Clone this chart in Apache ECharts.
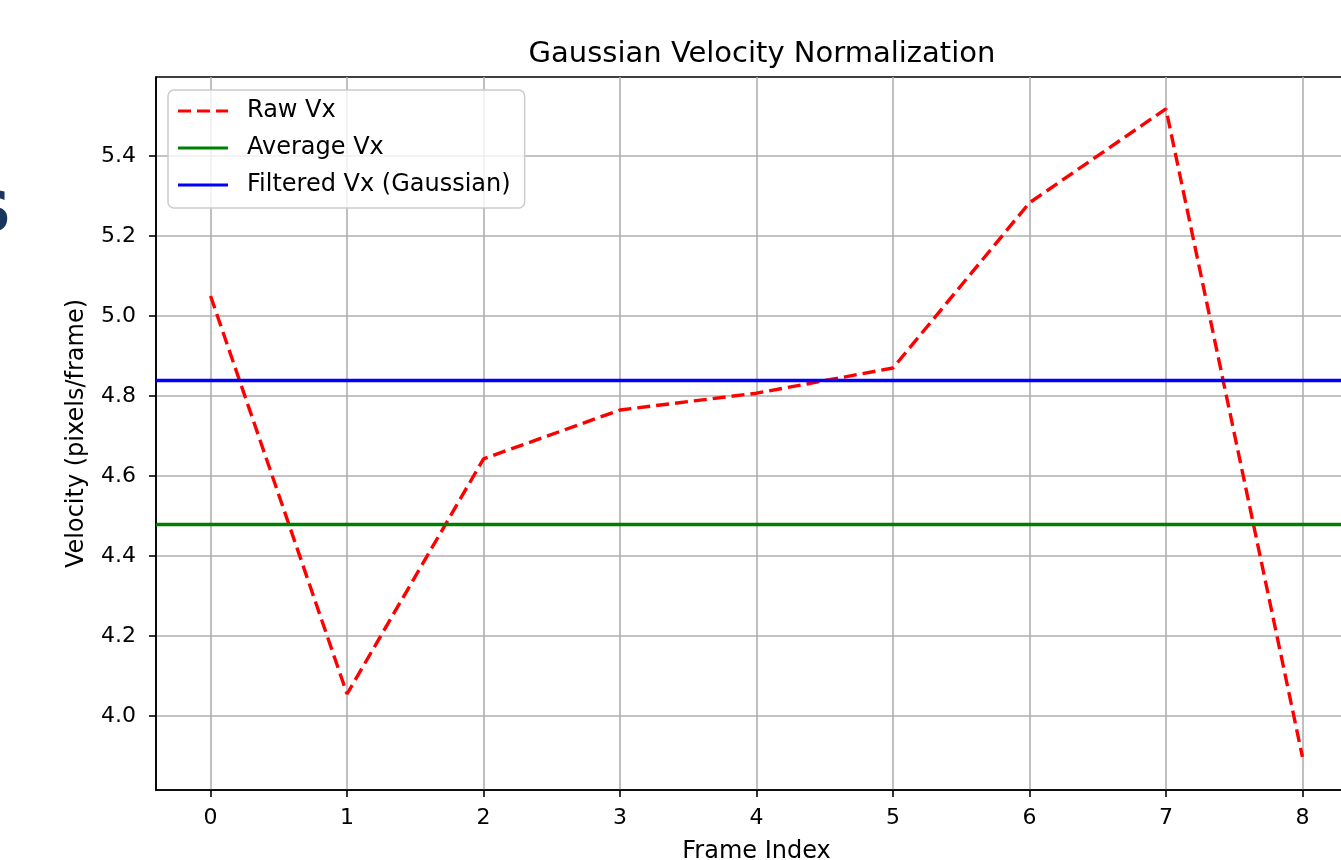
<!DOCTYPE html>
<html>
<head>
<meta charset="utf-8">
<script src="https://cdn.jsdelivr.net/npm/echarts@6/dist/echarts.min.js"></script>
<style>
html,body{margin:0;padding:0;background:#fff;}
#chart{width:1341px;height:860px;}
</style>
</head>
<body>
<div id="chart"></div>
<script>
// ---- data ----
const frames = [0, 1, 2, 3, 4, 5, 6, 7, 8];
const rawVx = [5.05, 4.055, 4.643, 4.765, 4.807, 4.87, 5.283, 5.518, 3.898];
const averageVx = 4.478;
const filteredVx = 4.837;
const xTicks = [0, 1, 2, 3, 4, 5, 6, 7, 8];
const yTicks = [4.0, 4.2, 4.4, 4.6, 4.8, 5.0, 5.2, 5.4];
const xRange = [-0.4, 8.4];
const yRange = [3.815, 5.5975];

const FONT = 'DejaVu Sans';
const chart = echarts.init(document.getElementById('chart'), null, {renderer: 'canvas'});

const rawData = frames.map((f, i) => [f, rawVx[i]]);
const dashIcon = 'path://M0,0h13v3h-13z M19,0h13v3h-13z M38,0h12v3h-12z';
const solidIcon = 'path://M0,0h50v3h-50z';

chart.setOption({
  animation: false,
  backgroundColor: '#ffffff',
  title: {
    text: 'Gaussian Velocity Normalization',
    left: 757, top: 35, textAlign: 'center',
    textStyle: {fontFamily: FONT, fontSize: 29, fontWeight: 'normal', color: '#000'}
  },
  graphic: [{
    type: 'text', left: -29, top: 187,
    style: {text: 'S', fontFamily: FONT, fontSize: 56, fontWeight: 'bold', fill: '#1b365d'}
  }],
  legend: {
    orient: 'vertical', left: 168, top: 90,
    itemWidth: 50, itemHeight: 3, itemGap: 13,
    padding: [9, 14, 11, 10],
    backgroundColor: 'rgba(255,255,255,0.8)',
    borderColor: '#cccccc', borderWidth: 1.5, borderRadius: 6,
    textStyle: {fontFamily: FONT, fontSize: 24, color: '#000', padding: [0, 0, 0, 14]},
    data: [
      {name: 'Raw Vx', icon: dashIcon, itemStyle: {color: '#ff0000'}},
      {name: 'Average Vx', icon: solidIcon, itemStyle: {color: '#008000'}},
      {name: 'Filtered Vx (Gaussian)', icon: solidIcon, itemStyle: {color: '#0000ff'}}
    ]
  },
  grid: {
    left: 156, top: 77, width: 1201, height: 713,
    outerBoundsMode: 'none', containLabel: false,
    show: true, borderColor: '#000', borderWidth: 1.6, backgroundColor: 'transparent'
  },
  xAxis: {
    type: 'value', min: xRange[0], max: xRange[1],
    name: 'Frame Index', nameLocation: 'middle', nameGap: 50,
    nameTextStyle: {fontFamily: FONT, fontSize: 24, color: '#000'},
    axisLine: {show: true, onZero: false, lineStyle: {color: '#000', width: 1.6}},
    axisTick: {show: true, length: 7, lineStyle: {color: '#000', width: 1.6}, customValues: xTicks},
    axisLabel: {fontFamily: FONT, fontSize: 22, color: '#000', margin: 17, customValues: xTicks,
      formatter: v => String(Math.round(v))},
    splitLine: {show: true, lineStyle: {color: '#b0b0b0', width: 1.6}}
  },
  yAxis: {
    type: 'value', min: yRange[0], max: yRange[1],
    name: 'Velocity (pixels/frame)', nameLocation: 'middle', nameGap: 67, nameRotate: 90,
    nameTextStyle: {fontFamily: FONT, fontSize: 24, color: '#000'},
    axisLine: {show: true, onZero: false, lineStyle: {color: '#000', width: 1.6}},
    axisTick: {show: true, length: 7, lineStyle: {color: '#000', width: 1.6}, customValues: yTicks},
    axisLabel: {fontFamily: FONT, fontSize: 22, color: '#000', margin: 20, customValues: yTicks,
      formatter: v => v.toFixed(1)},
    splitLine: {show: true, lineStyle: {color: '#b0b0b0', width: 1.6}}
  },
  series: [
    {
      name: 'Raw Vx', type: 'line', data: rawData, symbol: 'none', z: 3,
      lineStyle: {color: '#ff0000', width: 3.4, type: [13, 6]},
      itemStyle: {color: '#ff0000'}
    },
    {
      name: 'Average Vx', type: 'line', data: [], symbol: 'none',
      lineStyle: {color: '#008000', width: 3.4}, itemStyle: {color: '#008000'},
      markLine: {silent: true, symbol: 'none', label: {show: false},
        lineStyle: {color: '#008000', width: 3.4, type: 'solid'},
        data: [{yAxis: averageVx}]}
    },
    {
      name: 'Filtered Vx (Gaussian)', type: 'line', data: [], symbol: 'none',
      lineStyle: {color: '#0000ff', width: 3.4}, itemStyle: {color: '#0000ff'},
      markLine: {silent: true, symbol: 'none', label: {show: false},
        lineStyle: {color: '#0000ff', width: 3.4, type: 'solid'},
        data: [{yAxis: filteredVx}]}
    }
  ]
});
</script>
</body>
</html>
